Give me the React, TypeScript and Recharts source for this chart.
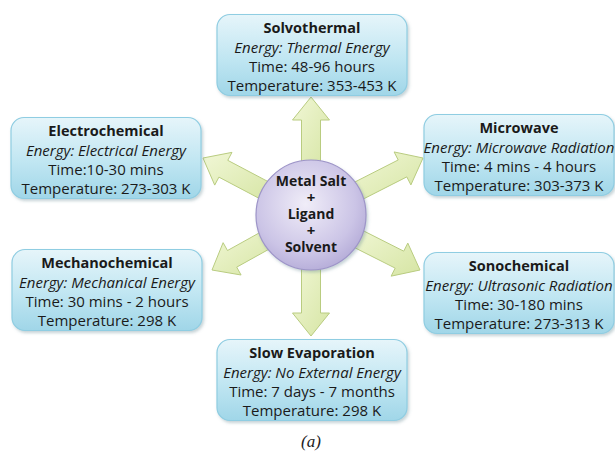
import React from "react";
import { ScatterChart, Scatter, XAxis, YAxis, ReferenceLine } from "recharts";

// synthesis routes, one box each
const methods = [
  "Solvothermal",
  "Electrochemical",
  "Microwave",
  "Mechanochemical",
  "Sonochemical",
  "Slow Evaporation",
];
const energies = [
  "Energy: Thermal Energy",
  "Energy: Electrical Energy",
  "Energy: Microwave Radiation",
  "Energy: Mechanical Energy",
  "Energy: Ultrasonic Radiation",
  "Energy: No External Energy",
];
const times = [
  "Time: 48-96 hours",
  "Time:10-30 mins",
  "Time: 4 mins - 4 hours",
  "Time: 30 mins - 2 hours",
  "Time: 30-180 mins",
  "Time: 7 days - 7 months",
];
const temps = [
  "Temperature: 353-453 K",
  "Temperature: 273-303 K",
  "Temperature: 303-373 K",
  "Temperature: 298 K",
  "Temperature: 273-313 K",
  "Temperature: 298 K",
];
const boxX = [312, 106, 519, 107, 519, 312];
const boxY = [55, 158, 155, 290, 293, 380];

// centre node
const reactants = ["Metal Salt", "+", "Ligand", "+", "Solvent"];
const hubX = 311;
const hubY = 215;

// arrow tips: up, upper-left, upper-right, lower-left, lower-right, down
const arrowTipX = [311, 203, 423, 212, 420, 311];
const arrowTipY = [97, 158, 158, 270, 270, 336];

const caption = ["(a)"];
const captionX = [311];
const captionY = [441];

const W = 615;
const H = 456;
const HUB_R = 55;
const FONT = "'Open Sans', sans-serif";

const boxData = methods.map((m, i) => ({
  x: boxX[i],
  y: boxY[i],
  title: m,
  energy: energies[i],
  time: times[i],
  temp: temps[i],
}));
const hubData = [{ x: hubX, y: hubY, lines: reactants }];
const captionData = caption.map((c, i) => ({ x: captionX[i], y: captionY[i], text: c }));

const arrowSegments = arrowTipX.map((tx, i) => {
  const ty = arrowTipY[i];
  const dx = tx - hubX;
  const dy = ty - hubY;
  const len = Math.sqrt(dx * dx + dy * dy);
  const k = (HUB_R - 8) / len;
  return [
    { x: hubX + dx * k, y: hubY + dy * k },
    { x: tx, y: ty },
  ];
});

const ArrowShape = (props: any) => {
  const { x1, y1, x2, y2 } = props;
  const dx = x2 - x1;
  const dy = y2 - y1;
  const len = Math.sqrt(dx * dx + dy * dy);
  const ux = dx / len;
  const uy = dy / len;
  const nx = -uy;
  const ny = ux;
  const sw = 9.5;
  const hw = 18.5;
  const hl = 23;
  const bx = x2 - ux * hl;
  const by = y2 - uy * hl;
  const pts = [
    [x1 + nx * sw, y1 + ny * sw],
    [bx + nx * sw, by + ny * sw],
    [bx + nx * hw, by + ny * hw],
    [x2, y2],
    [bx - nx * hw, by - ny * hw],
    [bx - nx * sw, by - ny * sw],
    [x1 - nx * sw, y1 - ny * sw],
  ]
    .map((p) => p.join(","))
    .join(" ");
  return (
    <polygon
      points={pts}
      fill="url(#arrowFill)"
      stroke="#b9cc80"
      strokeWidth={1}
      strokeLinejoin="round"
    />
  );
};

const HubShape = (props: any) => {
  const { cx, cy, payload } = props;
  const lines: string[] = payload.lines;
  const gap = 16.5;
  const start = cy - ((lines.length - 1) * gap) / 2 - 2;
  return (
    <g>
      <defs>
        <linearGradient id="boxFill" x1="0" y1="0" x2="0" y2="1">
          <stop offset="0%" stopColor="#e6f5fa" />
          <stop offset="55%" stopColor="#c0e6f2" />
          <stop offset="100%" stopColor="#a0d6e8" />
        </linearGradient>
        <linearGradient id="arrowFill" x1="0" y1="0" x2="1" y2="1">
          <stop offset="0%" stopColor="#f1f7d6" />
          <stop offset="100%" stopColor="#d6e5a4" />
        </linearGradient>
        <radialGradient id="hubFill" cx="45%" cy="40%" r="65%">
          <stop offset="0%" stopColor="#f0edf8" />
          <stop offset="70%" stopColor="#cbc4e6" />
          <stop offset="100%" stopColor="#b2a9d6" />
        </radialGradient>
        <filter id="soft" x="-10%" y="-10%" width="125%" height="130%">
          <feDropShadow dx="1.5" dy="2" stdDeviation="1.8" floodColor="#5a7f8c" floodOpacity="0.35" />
        </filter>
      </defs>
      <circle cx={cx} cy={cy} r={HUB_R} fill="url(#hubFill)" stroke="#9d94c8" strokeWidth={1.2} filter="url(#soft)" />
      {lines.map((t, i) => (
        <text
          key={i}
          x={cx}
          y={start + i * gap}
          textAnchor="middle"
          dominantBaseline="central"
          fontFamily={FONT}
          fontWeight={700}
          fontSize={t === "+" ? 15 : 14}
          fill="#1a1a1a"
        >
          {t}
        </text>
      ))}
    </g>
  );
};

const BoxShape = (props: any) => {
  const { cx, cy, payload } = props;
  const w = 190;
  const h = 81;
  const rows = [payload.title, payload.energy, payload.time, payload.temp];
  return (
    <g>
      <rect
        x={cx - w / 2}
        y={cy - h / 2}
        width={w}
        height={h}
        rx={13}
        fill="url(#boxFill)"
        stroke="#8fcde2"
        strokeWidth={1.2}
        filter="url(#soft)"
      />
      {rows.map((t, i) => (
        <text
          key={i}
          x={cx}
          y={cy - 27.5 + i * 19}
          textAnchor="middle"
          dominantBaseline="central"
          fontFamily={FONT}
          fontSize={i === 0 ? 14.5 : 15}
          fontWeight={i === 0 ? 700 : 400}
          fontStyle={i === 1 ? "italic" : "normal"}
          fill="#1a1a1a"
        >
          {t}
        </text>
      ))}
    </g>
  );
};

const CaptionShape = (props: any) => {
  const { cx, cy, payload } = props;
  return (
    <text
      x={cx}
      y={cy}
      textAnchor="middle"
      dominantBaseline="central"
      fontFamily="'Liberation Serif', serif"
      fontStyle="italic"
      fontSize={17}
      fill="#222"
    >
      {payload.text}
    </text>
  );
};

export default function App() {
  return (
    <div style={{ position: "absolute", left: 0, top: 0, width: W, height: H, background: "#fff" }}>
      <ScatterChart width={W} height={H} margin={{ top: 0, right: 0, bottom: 0, left: 0 }}>
        <XAxis type="number" dataKey="x" domain={[0, W]} allowDataOverflow hide />
        <YAxis type="number" dataKey="y" domain={[0, H]} allowDataOverflow reversed hide />
        {arrowSegments.map((seg, i) => (
          <ReferenceLine key={i} segment={seg} ifOverflow="visible" shape={ArrowShape} />
        ))}
        <Scatter data={hubData} shape={HubShape} isAnimationActive={false} />
        <Scatter data={boxData} shape={BoxShape} isAnimationActive={false} />
        <Scatter data={captionData} shape={CaptionShape} isAnimationActive={false} />
      </ScatterChart>
    </div>
  );
}
